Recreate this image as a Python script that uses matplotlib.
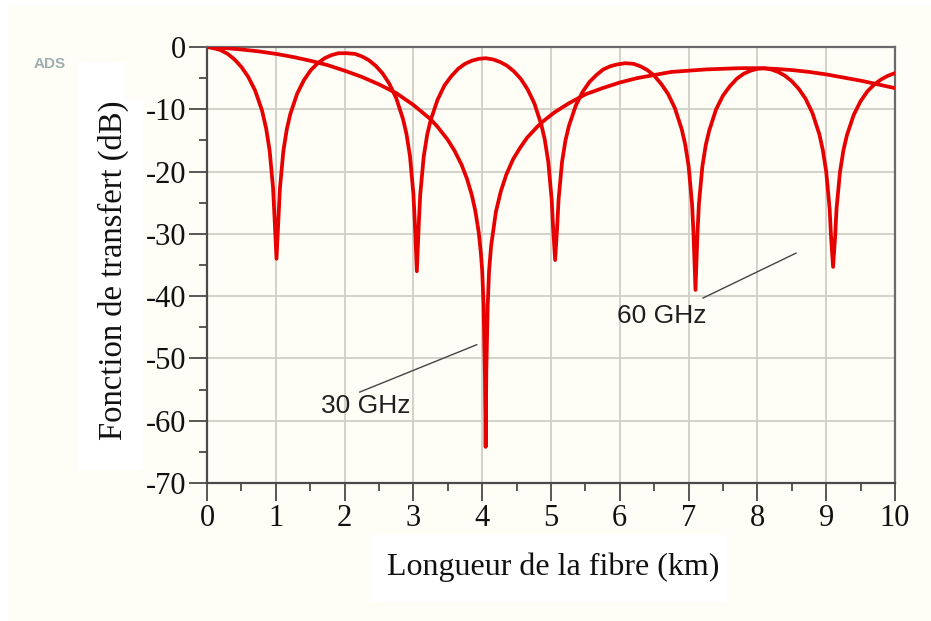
import matplotlib
matplotlib.use("Agg")
import matplotlib.pyplot as plt
from matplotlib.patches import Rectangle
from matplotlib.ticker import MultipleLocator, FuncFormatter

# ──────────────────────────────────────────────
# Données (km, dB)
# ──────────────────────────────────────────────
x60 = [0, 0.1, 0.2, 0.3, 0.4, 0.5, 0.6, 0.7, 0.8, 0.86, 0.91, 0.96, 0.98, 1.01,
       1.04, 1.06, 1.11, 1.16, 1.21, 1.31, 1.41, 1.51, 1.61, 1.71, 1.81, 1.91, 2.03,
       2.15, 2.25, 2.35, 2.45, 2.55, 2.65, 2.75, 2.85, 2.90, 2.95, 3.00, 3.02, 3.05,
       3.08, 3.10, 3.15, 3.20, 3.25, 3.35, 3.45, 3.55, 3.65, 3.75, 3.85, 3.95, 4.05,
       4.16, 4.26, 4.36, 4.46, 4.56, 4.66, 4.76, 4.86, 4.91, 4.96, 5.01, 5.03, 5.06,
       5.09, 5.11, 5.16, 5.21, 5.26, 5.36, 5.46, 5.56, 5.66, 5.76, 5.86, 5.96, 6.08,
       6.20, 6.30, 6.40, 6.50, 6.60, 6.70, 6.80, 6.90, 6.95, 7.00, 7.05, 7.07, 7.10,
       7.13, 7.15, 7.20, 7.25, 7.30, 7.40, 7.50, 7.60, 7.70, 7.80, 7.90, 8.00, 8.10,
       8.20, 8.30, 8.40, 8.50, 8.60, 8.70, 8.80, 8.90, 8.95, 9.00, 9.05, 9.07, 9.10,
       9.13, 9.15, 9.20, 9.25, 9.30, 9.40, 9.50, 9.60, 9.70, 9.80, 9.90, 10.0]
y60 = [0, -0.2, -0.5, -1.1, -2.0, -3.2, -4.8, -7.0, -10.2, -13.1, -16.6, -22.6, -27.0, -34.0,
       -27.1, -22.7, -16.7, -13.2, -10.8, -7.5, -5.3, -3.7, -2.6, -1.8, -1.3, -1.0, -1.0,
       -1.1, -1.5, -2.1, -3.0, -4.2, -5.9, -8.2, -11.6, -14.0, -17.5, -23.6, -28.0, -36.0,
       -28.0, -23.6, -17.6, -14.1, -11.8, -8.5, -6.2, -4.7, -3.5, -2.7, -2.2, -1.9, -1.8,
       -2.0, -2.4, -3.0, -3.9, -5.1, -6.8, -9.1, -12.5, -14.9, -18.4, -24.5, -28.9, -34.2,
       -28.9, -24.5, -18.5, -15.0, -12.7, -9.4, -7.2, -5.6, -4.5, -3.6, -3.1, -2.8, -2.6,
       -2.7, -3.1, -3.7, -4.6, -5.9, -7.5, -9.8, -13.2, -15.6, -19.1, -25.2, -29.6, -39.0,
       -29.6, -25.2, -19.2, -15.7, -13.4, -10.0, -7.8, -6.3, -5.1, -4.3, -3.8, -3.5, -3.4,
       -3.6, -4.0, -4.6, -5.5, -6.7, -8.3, -10.6, -14.0, -16.5, -20.0, -26.0, -30.4, -35.3,
       -30.4, -26.0, -20.1, -16.6, -14.2, -10.9, -8.7, -7.1, -6.0, -5.2, -4.6, -4.2]

x30 = [0, 0.25, 0.5, 0.75, 1.0, 1.25, 1.5, 1.75, 2.0, 2.25, 2.5, 2.75, 3.0, 3.25,
       3.35, 3.5, 3.6, 3.7, 3.78, 3.85, 3.9, 3.95, 3.98, 4.0, 4.02, 4.04, 4.05,
       4.06, 4.08, 4.1, 4.13, 4.2, 4.27, 4.35, 4.45, 4.55, 4.65, 4.8, 4.9, 5.05,
       5.25, 5.5, 5.75, 6.0, 6.25, 6.5, 6.75, 7.0, 7.25, 7.5, 7.75, 8.0, 8.25,
       8.5, 8.75, 9.0, 9.25, 9.5, 9.75, 10.0]
y30 = [0, -0.15, -0.4, -0.7, -1.1, -1.6, -2.2, -2.9, -3.8, -4.8, -6.0, -7.4, -9.3, -11.6,
       -12.8, -14.9, -16.7, -18.9, -21.2, -23.8, -26.3, -29.8, -33.0, -35.9, -41.5, -53.0, -64.2,
       -52.0, -41.5, -35.9, -31.9, -26.4, -23.2, -20.5, -18.0, -16.2, -14.6, -12.8, -11.8, -10.5,
       -9.1, -7.6, -6.6, -5.7, -5.0, -4.5, -4.0, -3.8, -3.6, -3.5, -3.4, -3.4, -3.5,
       -3.7, -4.0, -4.4, -4.9, -5.4, -6.0, -6.6]

xticks = list(range(0, 11))
yticks = list(range(-70, 1, 10))

# ──────────────────────────────────────────────
# Figure
# ──────────────────────────────────────────────
W, H = 931, 621
ivoire = "#fefef7"
rouge = "#e60000"
plt.rcParams["axes.unicode_minus"] = False

fig = plt.figure(figsize=(W / 100, H / 100), dpi=100, facecolor="white")
fig.add_artist(Rectangle((8 / W, 0), 1, 1 - 5 / H, transform=fig.transFigure,
                         fc=ivoire, ec="none", zorder=-2))
# cadres blancs derrière les titres d'axes
fig.add_artist(Rectangle((78 / W, 1 - 100 / H), 47 / W, 38 / H, transform=fig.transFigure,
                         fc="white", ec="none", zorder=-1))
fig.add_artist(Rectangle((78 / W, 1 - 470 / H), 65 / W, 370 / H, transform=fig.transFigure,
                         fc="white", ec="none", zorder=-1))
fig.add_artist(Rectangle((371 / W, 1 - 602 / H), 356 / W, 67 / H, transform=fig.transFigure,
                         fc="white", ec="none", zorder=-1))

ax = fig.add_axes([207 / W, 1 - 483 / H, 688 / W, 436 / H])
ax.set_facecolor(ivoire)

ax.plot(x60, y60, color=rouge, lw=2.7, solid_joinstyle="round", zorder=3)
ax.plot(x30, y30, color=rouge, lw=2.7, solid_joinstyle="round", zorder=3)

ax.set_xlim(0, 10); ax.set_ylim(-70, 0)
ax.set_xticks(xticks); ax.set_yticks(yticks)
ax.xaxis.set_minor_locator(MultipleLocator(0.5))
ax.yaxis.set_minor_locator(MultipleLocator(5))
ax.yaxis.set_major_formatter(FuncFormatter(lambda v, p: f"{int(round(v))}"))
ax.grid(True, which="major", color="#cfcfc6", lw=1.3)
ax.set_axisbelow(True)

for s in ax.spines.values():
    s.set_color("#6a6a6a"); s.set_linewidth(1.6)
ax.spines["left"].set_color("#4a4a4a"); ax.spines["bottom"].set_color("#4a4a4a")

serif = ["Liberation Serif", "DejaVu Serif"]
ax.tick_params(which="major", length=13, width=1.3, color="#4a4a4a", pad=2,
               labelsize=22, labelcolor="#111111")
ax.tick_params(which="minor", length=6, width=1.3, color="#4a4a4a")
for lab in ax.get_xticklabels() + ax.get_yticklabels():
    lab.set_family(serif)

# annotations
ax.plot([2.22, 3.92], [-55.4, -47.8], color="#444444", lw=1.0, zorder=4)
ax.text(2.31, -57.6, "30 GHz", ha="center", va="center", fontsize=19,
        family="Liberation Sans", color="#202020", zorder=4)
ax.plot([7.21, 8.56], [-40.3, -33.1], color="#444444", lw=1.0, zorder=4)
ax.text(6.61, -43.2, "60 GHz", ha="center", va="center", fontsize=19,
        family="Liberation Sans", color="#202020", zorder=4)

fig.text(113 / W, 1 - 270 / H, "Fonction de transfert (dB)", rotation=90,
         ha="center", va="center", fontsize=23.5, family=serif, color="#111111")
fig.text(553 / W, 1 - 567 / H, "Longueur de la fibre (km)", ha="center", va="center",
         fontsize=23, family=serif, color="#111111")
fig.text(50 / W, 1 - 64 / H, "ADS", ha="center", va="center", fontsize=11,
         fontweight="bold", family="Liberation Sans", color="#9fadb0")

fig.savefig("out.png", dpi=100, facecolor=fig.get_facecolor())
